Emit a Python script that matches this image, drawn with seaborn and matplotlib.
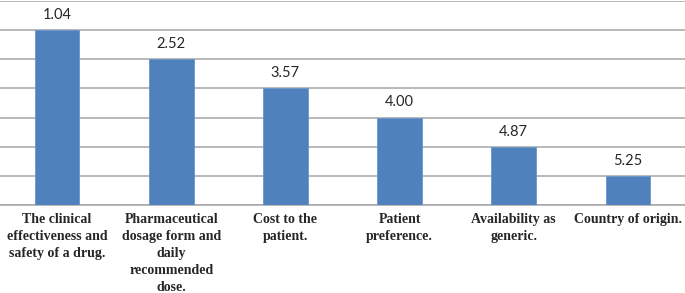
import numpy as np
import pandas as pd
import matplotlib
matplotlib.use('Agg')
import matplotlib.pyplot as plt
import seaborn as sns

# factors and their mean rank (bar height drawn on a 1..6 scale, shortest = lowest priority)
factors = ['The clinical\neffectiveness and\nsafety of a drug.',
           'Pharmaceutical\ndosage form and\ndaily\nrecommended\ndose.',
           'Cost to the\npatient.',
           'Patient\npreference.',
           'Availability as\ngeneric.',
           'Country of origin.']
mean_rank = ['1.04', '2.52', '3.57', '4.00', '4.87', '5.25']
bar_height = [6, 5, 4, 3, 2, 1]

df = pd.DataFrame({'factor': factors, 'height': bar_height, 'label': mean_rank})

sns.set_style('white')
fig = plt.figure(figsize=(6.85, 2.93), dpi=100)
ax = fig.add_axes([0, 88 / 293, 1, 204 / 293])

sns.barplot(data=df, x='factor', y='height', color='#4f81bd', width=0.39,
            saturation=1, edgecolor='#6a95c9', linewidth=0.6, ax=ax, zorder=3)

ax.set_xlim(-0.5, 5.5)
ax.set_ylim(0, 7)
ax.set_yticks(range(0, 8))
ax.yaxis.grid(True, color='#a6a6a6', linewidth=1.1)
ax.set_axisbelow(True)
ax.tick_params(axis='y', length=0, labelleft=False)

for s in ['left', 'right', 'top']:
    ax.spines[s].set_visible(False)
ax.spines['bottom'].set_color('#a6a6a6')
ax.spines['bottom'].set_linewidth(1.1)

ax.set_xticks(range(6))
ax.set_xticklabels(factors, family='Liberation Serif', fontweight='bold',
                   fontsize=10, linespacing=1.38)
ax.set_xticks(np.arange(-0.5, 6, 1), minor=True)
ax.tick_params(axis='x', which='major', length=0, pad=6)
ax.tick_params(axis='x', which='minor', length=5, color='#a6a6a6', width=1.1)
for t in ax.get_xticklabels():
    t.set_verticalalignment('top')

for i, row in df.iterrows():
    ax.text(i, row['height'] + 0.28, row['label'], ha='center', va='bottom',
            fontsize=10.5, family='Lato')

ax.set_xlabel('')
ax.set_ylabel('')
fig.savefig('out.png', dpi=100)
